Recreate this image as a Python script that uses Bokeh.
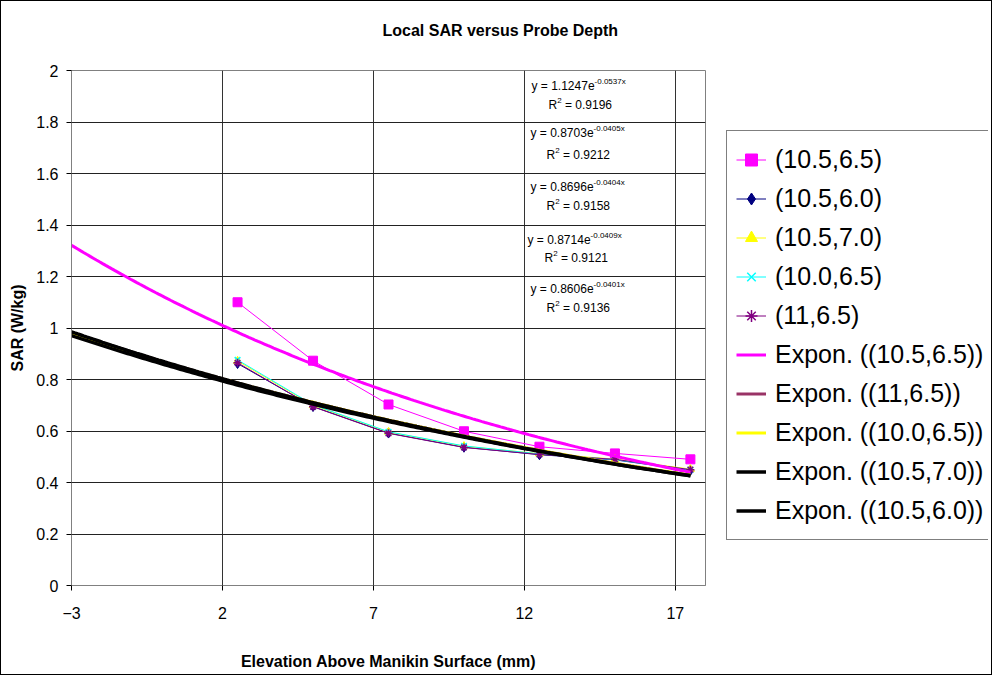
import numpy as np
from bokeh.plotting import figure
from bokeh.layouts import row
from bokeh.models import Label, Legend, LegendItem, FixedTicker, NumeralTickFormatter, Range1d
from bokeh.embed import file_html
from bokeh.resources import INLINE

# ---------------- data ----------------
x_mm = [2.5, 5.0, 7.5, 10.0, 12.5, 15.0, 17.5]
sar_105_65 = [1.100, 0.873, 0.703, 0.599, 0.539, 0.513, 0.490]
sar_105_60 = [0.862, 0.695, 0.592, 0.537, 0.508, 0.488, 0.447]
sar_105_70 = [0.872, 0.700, 0.596, 0.541, 0.512, 0.491, 0.452]
sar_100_65 = [0.876, 0.702, 0.597, 0.542, 0.511, 0.489, 0.449]
sar_110_65 = [0.865, 0.694, 0.591, 0.536, 0.509, 0.490, 0.450]
series_names = ["(10.5,6.5)", "(10.5,6.0)", "(10.5,7.0)", "(10.0,6.5)", "(11,6.5)"]

# exponential trendlines y = a*exp(b*x) as printed on the chart
fit_names = ["Expon. ((10.5,6.5))", "Expon. ((11,6.5))", "Expon. ((10.0,6.5))",
             "Expon. ((10.5,7.0))", "Expon. ((10.5,6.0))"]
fit_a = [1.1247, 0.8703, 0.8696, 0.8714, 0.8606]
fit_b = [-0.0537, -0.0405, -0.0404, -0.0409, -0.0401]
fit_r2 = [0.9196, 0.9212, 0.9158, 0.9121, 0.9136]
fit_x_from, fit_x_to = -3.0, 17.5

x_ticks = [-3, 2, 7, 12, 17]
y_ticks = [0, 0.2, 0.4, 0.6, 0.8, 1.0, 1.2, 1.4, 1.6, 1.8, 2.0]

# ---------------- main figure ----------------
WA, H, WB = 725, 673, 262
ML, MT, MB = 70, 69, 89
FW, FH = 634, 515
MR = WA - ML - FW
X0, X1, Y0, Y1 = -3, 18, 0, 2
FONT = "Liberation Sans"

p = figure(width=WA, height=H, x_range=Range1d(X0, X1), y_range=Range1d(Y0, Y1),
           output_backend="svg", toolbar_location=None,
           title="Local SAR versus Probe Depth\n\u00a0",
           min_border_left=ML, min_border_right=MR, min_border_top=MT, min_border_bottom=MB)
p.background_fill_color = "white"
p.border_fill_color = "white"
p.outline_line_color = "#808080"
p.outline_line_width = 1

p.title.text_font = FONT
p.title.text_font_style = "bold"
p.title.text_font_size = "16px"
p.title.text_color = "#000000"
p.title.text_line_height = 1.25
p.title.align = "left"
p.title.offset = 381 - ML
p.title.standoff = 20


def dx(sx):  # figure px -> data x
    return X0 + (sx - ML) / FW * (X1 - X0)


def dy(sy):
    return Y1 - (sy - MT) / FH * (Y1 - Y0)


# axes
p.xaxis.ticker = FixedTicker(ticks=x_ticks)
p.yaxis.ticker = FixedTicker(ticks=y_ticks)
p.yaxis.formatter = NumeralTickFormatter(format="0.[0]")
for ax in (p.xaxis[0], p.yaxis[0]):
    ax.axis_line_color = "#808080"
    ax.major_tick_line_color = "#000000"
    ax.minor_tick_line_color = None
    ax.major_tick_in = 0
    ax.major_tick_out = 5
    ax.major_label_text_font = FONT
    ax.major_label_text_font_size = "16px"
    ax.major_label_text_color = "#000000"
    ax.axis_label_text_font = FONT
    ax.axis_label_text_font_style = "bold"
    ax.axis_label_text_font_size = "16px"
    ax.axis_label_text_color = "#000000"
p.xaxis.axis_label = "Elevation Above Manikin Surface (mm)"
p.yaxis.axis_label = "SAR (W/kg)"
p.xaxis.major_label_standoff = 16
p.xaxis.axis_label_standoff = 31
p.yaxis.major_label_standoff = 8
p.yaxis.axis_label_standoff = 7

p.xgrid.ticker = FixedTicker(ticks=x_ticks)
p.ygrid.ticker = FixedTicker(ticks=y_ticks)
p.xgrid.grid_line_color = "#333333"
p.ygrid.grid_line_color = "#222222"

# ---------------- legend figure ----------------
q = figure(width=WB, height=H, x_range=Range1d(0, 1), y_range=Range1d(0, 1),
           output_backend="svg", toolbar_location=None,
           x_axis_location=None, y_axis_location=None,
           min_border_left=0, min_border_right=0, min_border_top=0, min_border_bottom=0)
q.grid.visible = False
q.outline_line_color = None
q.background_fill_color = "white"
q.border_fill_color = "white"

# ---------------- data series ----------------
items = []
styles = [
    (sar_105_65, "#FF00FF", "square", 9, "#FF00FF", 1),
    (sar_105_60, "#000080", "diamond", 10, "#000080", 1),
    (sar_105_70, "#FFFF00", "triangle", 8, "#FFFF00", 1),
    (sar_100_65, "#00FFFF", "x", 8, None, 1.5),
    (sar_110_65, "#800080", "asterisk", 8, None, 1.5),
]
for (ys, col, mk, sz, fill, lw), name in zip(styles, series_names):
    p.line(x_mm, ys, line_color=col, line_width=1)
    p.scatter(x_mm, ys, marker=mk, size=sz, line_color=col, line_width=lw,
              fill_color=fill if fill else col)
    # legend proxies (kept outside the legend panel's visible range)
    q_l = q.line([-5, -4], [-5, -4], line_color=col, line_width=1)
    q_s = q.scatter([-5], [-5], marker=mk, size=sz, line_color=col, line_width=lw,
                    fill_color=fill if fill else col)
    items.append(LegendItem(label=name, renderers=[q_l, q_s]))

# ---------------- trendlines ----------------
fit_colors = ["#FF00FF", "#993366", "#FFFF00", "#000000", "#000000"]
fit_widths = [3, 3, 3, 3.5, 3.5]
xs_fit = np.linspace(fit_x_from, fit_x_to, 200)
for a, b, col, lw, name in zip(fit_a, fit_b, fit_colors, fit_widths, fit_names):
    p.line(xs_fit, a * np.exp(b * xs_fit), line_color=col, line_width=lw)
    q_r = q.line([-5, -4], [-5, -4], line_color=col, line_width=lw)
    items.append(LegendItem(label=name, renderers=[q_r]))

# frames of the two figures are aligned by the row layout (frame bottom at MT+FH)
legend = Legend(items=items, location=(0, (MT + FH) - (547 - 8)))
legend.label_text_font = FONT
legend.label_text_font_size = "25px"
legend.label_text_color = "#000000"
legend.glyph_width = 30
legend.glyph_height = 39
legend.label_height = 39
legend.spacing = 0
legend.padding = 9
legend.margin = 0
legend.label_standoff = 9
legend.border_line_color = "#000000"
legend.border_line_width = 1
legend.background_fill_color = "white"
legend.background_fill_alpha = 1
q.add_layout(legend)

# ---------------- equation labels ----------------
eq_left = [538, 537, 537, 534, 537]
eq_y = [92, 139, 193, 246, 295]
r2_left = [555, 553, 553, 551, 553]
r2_y = [111, 161, 212, 264, 314]
FS, FSS = 12, 8
for a, b, r2, ex, ey, rx, ry in zip(fit_a, fit_b, fit_r2, eq_left, eq_y, r2_left, r2_y):
    main = f"y = {a:.4f}e"
    p.add_layout(Label(x=dx(ex - 8), y=dy(ey - 8), text=main, text_font=FONT,
                       text_font_size=f"{FS}px", text_baseline="middle", text_color="#000000"))
    main_w = 5.254 * FS
    p.add_layout(Label(x=dx(ex - 8 + main_w), y=dy(ey - 8 - 4.5), text=f"{b:.4f}x", text_font=FONT,
                       text_font_size=f"{FSS}px", text_baseline="middle", text_color="#000000"))
    p.add_layout(Label(x=dx(rx - 8), y=dy(ry - 8), text="R", text_font=FONT,
                       text_font_size=f"{FS}px", text_baseline="middle", text_color="#000000"))
    p.add_layout(Label(x=dx(rx - 8 + 0.722 * FS), y=dy(ry - 8 - 4.5), text="2", text_font=FONT,
                       text_font_size=f"{FSS}px", text_baseline="middle", text_color="#000000"))
    p.add_layout(Label(x=dx(rx - 8 + 0.722 * FS + 0.556 * FSS + 0.278 * FS), y=dy(ry - 8),
                       text=f"= {r2:.4f}", text_font=FONT, text_font_size=f"{FS}px",
                       text_baseline="middle", text_color="#000000"))

lay = row(p, q)
lay.spacing = 0
lay.styles = {"border": "1px solid #000000", "width": "fit-content", "padding-right": "3px"}

open("out.html", "w").write(file_html(lay, INLINE))
